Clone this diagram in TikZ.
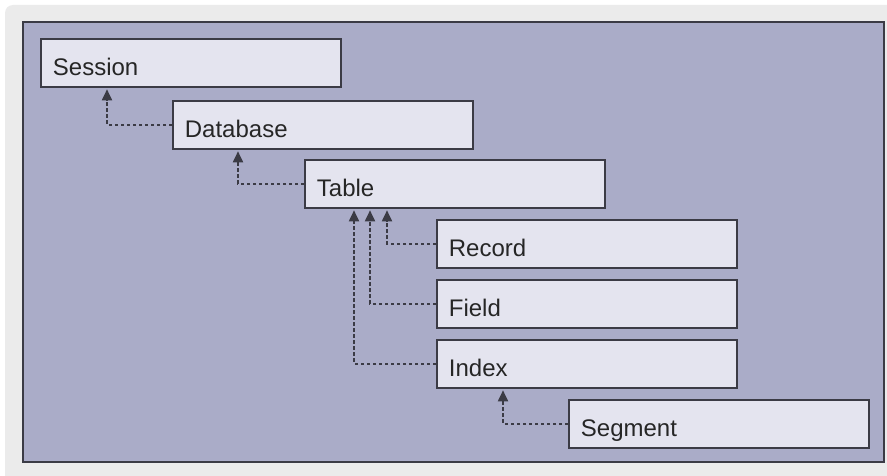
\documentclass[tikz,border=0pt]{standalone}
\usepackage{fontspec}
\setmainfont{Liberation Sans}
\usetikzlibrary{arrows.meta}
\definecolor{panelgrey}{HTML}{EBEBEB}
\definecolor{framefill}{HTML}{AAACC8}
\definecolor{boxfill}{HTML}{E4E4EF}
\definecolor{edge}{HTML}{3B3B45}
\tikzset{
  entity/.style={draw=edge, line width=1.8pt, fill=boxfill, anchor=north west,
    minimum width=300pt, minimum height=48pt, inner xsep=12pt, inner ysep=0pt,
    text width=276pt, align=left, text height=25pt, text depth=0pt,
    font=\fontsize{24}{26}\selectfont, text=black!85},
  link/.style={draw=edge, line width=1.8pt, dash pattern=on 3.5pt off 2.5pt,
    -{Triangle[width=10pt,length=11pt]}, shorten >=1.5pt}
}
\begin{document}
\begin{tikzpicture}[x=1pt,y=-1pt]
  \clip (0,0) rectangle (887,476);
  \useasboundingbox (0,0) rectangle (887,476);
  \fill[white] (0,0) rectangle (887,476);
  % light outer panel and lavender frame
  \fill[panelgrey, rounded corners=8pt] (5,5) rectangle (900,490);
  \draw[edge, line width=1.8pt, fill=framefill] (23,22) rectangle (884,462);

  % containment hierarchy
  \node[entity] (session)  at (40,38)   {Session};
  \node[entity] (database) at (172,100) {Database};
  \node[entity] (table)    at (304,159) {Table};
  \node[entity] (record)   at (436,219) {Record};
  \node[entity] (field)    at (436,279) {Field};
  \node[entity] (index)    at (436,339) {Index};
  \node[entity] (segment)  at (568,399) {Segment};

  % child-to-parent links
  \draw[link] (database.west) -| ([xshift=67pt]session.south west);
  \draw[link] (table.west)    -| ([xshift=66pt]database.south west);
  \draw[link] (record.west)   -| ([xshift=83pt]table.south west);
  \draw[link] (field.west)    -| ([xshift=66pt]table.south west);
  \draw[link] (index.west)    -| ([xshift=50pt]table.south west);
  \draw[link] (segment.west)  -| ([xshift=67pt]index.south west);
\end{tikzpicture}
\end{document}
